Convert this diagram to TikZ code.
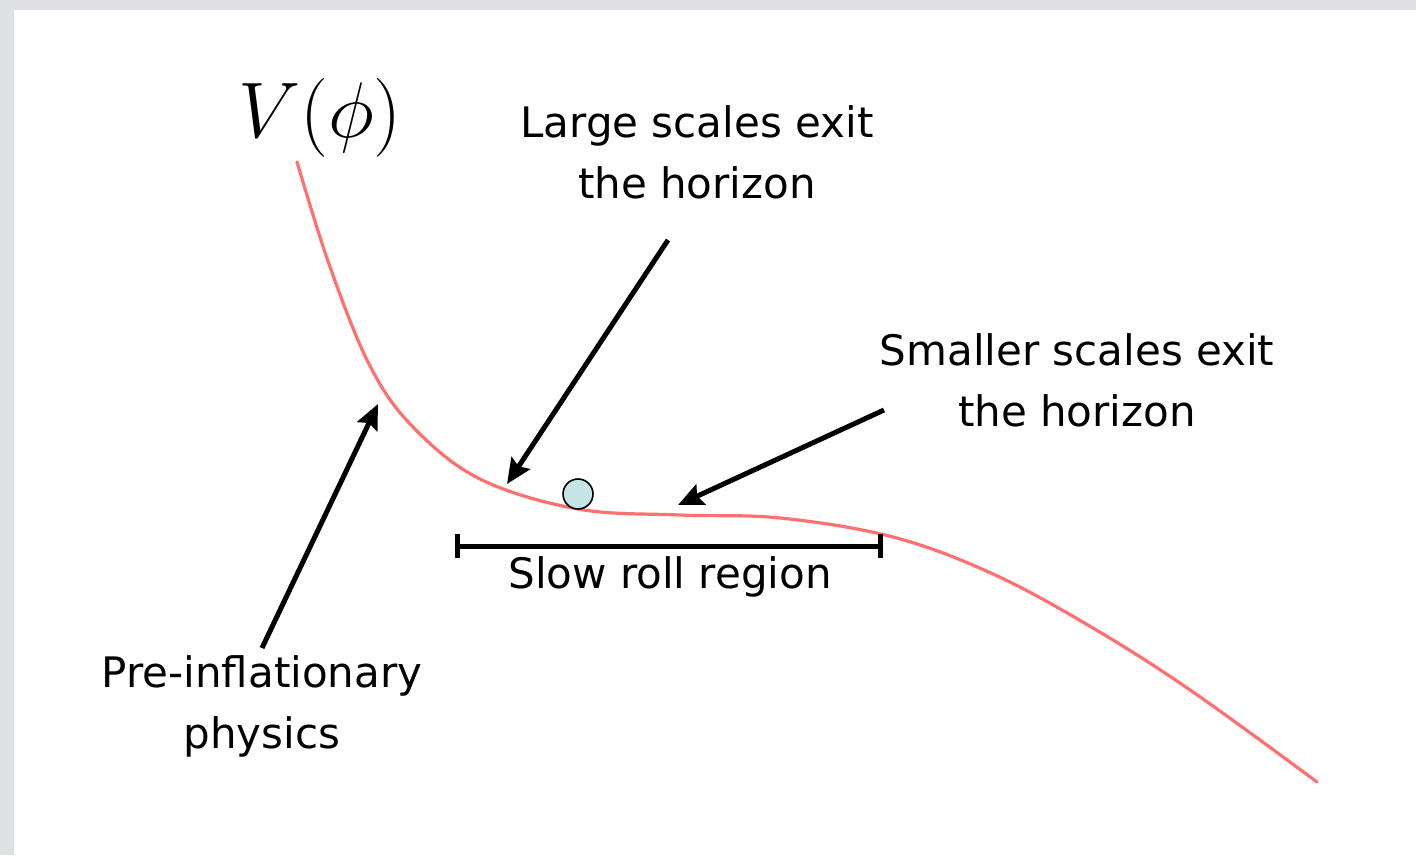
\documentclass[tikz,border=0pt]{standalone}
\usepackage{fontspec}
\setsansfont{DejaVu Sans}
\usepackage{amsmath}
\usepackage{xcolor}
\usetikzlibrary{arrows.meta,positioning}
\definecolor{potred}{RGB}{255,112,112}
\definecolor{ballblue}{RGB}{196,228,230}
\definecolor{framegray}{RGB}{222,224,227}

\begin{document}
\begin{tikzpicture}[
  x=0.5pt, y=-0.5pt,
  >=Stealth,
  lbl/.style={font=\sffamily\fontsize{21}{30.5}\selectfont, align=center, inner sep=0pt},
  arr/.style={-{Stealth[length=12.5pt,width=11pt,inset=2pt]}, line width=2.5pt},
  potential/.style={potred, line width=1.6pt, line join=round, line cap=round},
  ballnode/.style={circle, draw, line width=0.8pt, fill=ballblue,
                   minimum size=15pt, inner sep=0pt},
]
\useasboundingbox (0,0) rectangle (1416,855);
%% frame shadow
\fill[framegray] (0,0) rectangle (1416,10);
\fill[framegray] (0,0) rectangle (14,855);

%% potential curve
\draw[potential] plot[smooth, tension=0.6] coordinates {
  (297,162) (330,267) (370,366) (413,427) (480,479) (578,509)
  (680,515) (780,518) (893,537) (993,574) (1093,628) (1193,692)
  (1317,782)};
\node[font=\fontsize{20}{22}\selectfont, scale=1.9, inner sep=0pt] (vphi) at (320,118) {$V(\phi)$};

%% rolling field
\node[ballnode] (ball) at (578,494) {};

%% labels
\node[lbl] (large) at (697,152) {Large scales exit\\the horizon};
\node[lbl] (small) at (1077,380) {Smaller scales exit\\the horizon};
\node[lbl] (pre) at (262,706) {Pre-inflationary\\physics};

%% arrows onto the curve
\coordinate (largefrom) at (668,240);
\coordinate (largeto) at (507,484);
\coordinate (smallfrom) at (884,410);
\coordinate (smallto) at (678,505);
\coordinate (prefrom) at (262,648);
\coordinate (preto) at (378,404);
\draw[arr] (largefrom) -- (largeto);
\draw[arr] (smallfrom) -- (smallto);
\draw[arr] (prefrom) -- (preto);

%% slow roll bar
\coordinate (srl) at (455,546);
\coordinate (srr) at (883,546);
\draw[{Bar[width=12pt]}-{Bar[width=12pt]}, line width=2.5pt] (srl) -- (srr);
\node[lbl] (slow) at (670,577) {Slow roll region};
\end{tikzpicture}
\end{document}
